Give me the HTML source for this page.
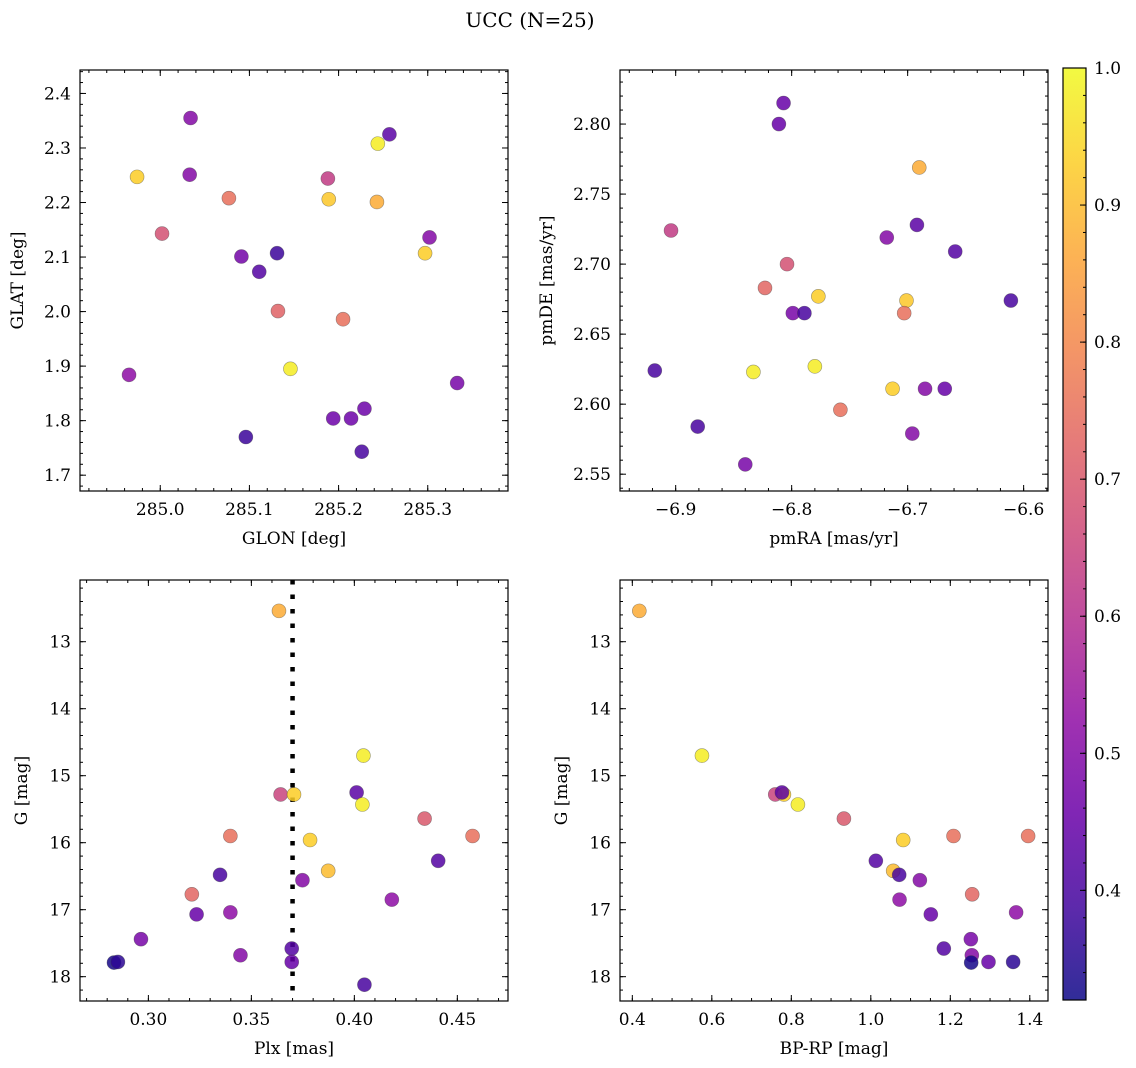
<!DOCTYPE html>
<html><head><meta charset="utf-8"><style>
body{margin:0;background:#fff;}
svg{display:block;font-family:"DejaVu Serif","Liberation Serif",serif;}
</style></head><body>
<svg id="chart" width="1136" height="1068" viewBox="0 0 1136 1068" xmlns="http://www.w3.org/2000/svg">
<defs><linearGradient id="cbgrad" x1="0" y1="1" x2="0" y2="0">
<stop offset="0" stop-color="#0d0887"/><stop offset="0.1" stop-color="#41049d"/><stop offset="0.2" stop-color="#6a00a8"/><stop offset="0.3" stop-color="#8f0da4"/><stop offset="0.4" stop-color="#b12a90"/><stop offset="0.5" stop-color="#cc4778"/><stop offset="0.6" stop-color="#e16462"/><stop offset="0.7" stop-color="#f2844b"/><stop offset="0.8" stop-color="#fca636"/><stop offset="0.9" stop-color="#fcce25"/><stop offset="1" stop-color="#f0f921"/>
</linearGradient></defs>
<text x="530" y="27" font-size="20" text-anchor="middle">UCC (N=25)</text>
</svg>
<script>
// Panel 1: GLON / GLAT
const glon = [285.034,284.974,285.033,285.077,285.002,285.091,285.111,285.131,285.132,285.146,284.965,285.096,285.188,285.189,285.243,285.244,285.257,285.205,285.297,285.302,285.333,285.194,285.214,285.229,285.226];
const glat = [2.355,2.247,2.251,2.208,2.143,2.101,2.073,2.107,2.001,1.895,1.884,1.770,2.244,2.206,2.201,2.308,2.325,1.986,2.107,2.136,1.869,1.804,1.804,1.822,1.743];
const prob1 = [0.50,0.93,0.50,0.75,0.68,0.47,0.42,0.38,0.72,0.98,0.52,0.38,0.63,0.92,0.87,0.98,0.43,0.75,0.93,0.50,0.48,0.46,0.46,0.46,0.40];
// Panel 2: pmRA / pmDE
const pmra = [-6.807,-6.811,-6.690,-6.904,-6.692,-6.718,-6.659,-6.804,-6.823,-6.777,-6.701,-6.703,-6.799,-6.789,-6.611,-6.918,-6.833,-6.780,-6.713,-6.685,-6.668,-6.758,-6.881,-6.696,-6.840];
const pmde = [2.815,2.800,2.769,2.724,2.728,2.719,2.709,2.700,2.683,2.677,2.674,2.665,2.665,2.665,2.674,2.624,2.623,2.627,2.611,2.611,2.611,2.596,2.584,2.579,2.557];
const prob2 = [0.45,0.45,0.87,0.63,0.43,0.50,0.42,0.68,0.73,0.93,0.92,0.75,0.48,0.40,0.40,0.40,0.98,0.98,0.93,0.50,0.45,0.75,0.40,0.50,0.48];
// Panels 3 & 4: Plx, BP-RP, G
const gmag = [12.54,15.28,15.28,14.70,15.25,15.43,15.90,15.96,15.64,15.90,16.27,16.42,16.56,16.48,16.77,17.07,17.04,16.85,17.44,17.68,17.58,17.78,17.79,17.78,18.12];
const plx = [0.3634,0.3642,0.3707,0.4044,0.4011,0.4039,0.3398,0.3785,0.4341,0.4574,0.4407,0.3873,0.3748,0.3348,0.3211,0.3234,0.3398,0.4182,0.2964,0.3447,0.3696,0.3696,0.2833,0.2852,0.4049];
const bprp = [0.4176,0.7596,0.7814,0.5752,0.7764,0.8166,1.2081,1.0815,0.9323,1.3958,1.0127,1.0563,1.1234,1.0714,1.2550,1.1510,1.3656,1.0723,1.2517,1.2542,1.1837,1.2961,1.2525,1.3581,null];
const prob3 = [0.87,0.65,0.93,0.98,0.43,0.98,0.75,0.93,0.70,0.75,0.42,0.90,0.50,0.40,0.73,0.45,0.52,0.52,0.48,0.50,0.42,0.45,0.33,0.36,0.40];
const plxLine = [0.370];
const ticks1x = [285.0,285.1,285.2,285.3], ticks1y = [1.7,1.8,1.9,2.0,2.1,2.2,2.3,2.4];
const ticks2x = [-6.9,-6.8,-6.7,-6.6], ticks2y = [2.55,2.60,2.65,2.70,2.75,2.80];
const ticks3x = [0.30,0.35,0.40,0.45], ticksG = [13,14,15,16,17,18];
const ticks4x = [0.4,0.6,0.8,1.0,1.2,1.4];
const cbTicks = [0.4,0.5,0.6,0.7,0.8,0.9,1.0];

const VMIN = 0.32, VMAX = 1.0;
const NS = 'http://www.w3.org/2000/svg';
const svg = document.getElementById('chart');
const plasma = ['#0d0887','#41049d','#6a00a8','#8f0da4','#b12a90','#cc4778','#e16462','#f2844b','#fca636','#fcce25','#f0f921'];
function hex(h){return [1,3,5].map(i=>parseInt(h.substr(i,2),16));}
function cmap(v){
  let t=(v-VMIN)/(VMAX-VMIN); t=Math.max(0,Math.min(1,t));
  const p=t*10, i=Math.min(9,Math.floor(p)), f=p-i;
  const a=hex(plasma[i]), b=hex(plasma[i+1]);
  return 'rgb('+a.map((c,k)=>Math.round(c+(b[k]-c)*f)).join(',')+')';
}
function el(tag, attrs, parent){
  const e=document.createElementNS(NS,tag);
  for(const k in attrs) e.setAttribute(k,attrs[k]);
  (parent||svg).appendChild(e); return e;
}
function fmt(v,d){return v.toFixed(d).replace('-','\u2212');}

function panel(o){
  const g=el('g',{});
  
  
  const sx=v=>o.L+(v-o.x0)/(o.x1-o.x0)*(o.R-o.L);
  const sy=v=>o.B-(v-o.y0)/(o.y1-o.y0)*(o.B-o.T);
  const tg=el('g',{stroke:'#000','stroke-width':1},g);
  
  
  function ticksX(step,len){
    const lo=Math.min(o.x0,o.x1), hi=Math.max(o.x0,o.x1);
    for(let k=Math.ceil(lo/step-1e-6);k*step<=hi+1e-9;k++){const x=sx(k*step);
      el('line',{x1:x,x2:x,y1:o.B,y2:o.B-len},tg); el('line',{x1:x,x2:x,y1:o.T,y2:o.T+len},tg);}
  }
  function ticksY(step,len){
    const lo=Math.min(o.y0,o.y1), hi=Math.max(o.y0,o.y1);
    for(let k=Math.ceil(lo/step-1e-6);k*step<=hi+1e-9;k++){const y=sy(k*step);
      el('line',{x1:o.L,x2:o.L+len,y1:y,y2:y},tg); el('line',{x1:o.R,x2:o.R-len,y1:y,y2:y},tg);}
  }
  ticksX(o.mx,3); ticksY(o.my,3);
  o.tx.forEach(v=>{const x=sx(v);el('line',{x1:x,x2:x,y1:o.B,y2:o.B-6},tg);el('line',{x1:x,x2:x,y1:o.T,y2:o.T+6},tg);
    const t=el('text',{x:x,y:o.B+24,'font-size':17,'text-anchor':'middle'},g);t.textContent=fmt(v,o.dx);
    
    });
  o.ty.forEach(v=>{const y=sy(v);el('line',{x1:o.L,x2:o.L+6,y1:y,y2:y},tg);el('line',{x1:o.R,x2:o.R-6,y1:y,y2:y},tg);
    const t=el('text',{x:o.L-9,y:y+6,'font-size':17,'text-anchor':'end'},g);t.textContent=fmt(v,o.dy);
    
    });
  if(o.vline){o.vline.forEach(v=>{const l=el('line',{x1:sx(v),x2:sx(v),y1:o.T,y2:o.B,stroke:'#000','stroke-width':4.5,'stroke-dasharray':'4.5 10'},g);
    
    });}
  o.xs.forEach((xv,i)=>{ if(xv==null) return;
    const c=el('circle',{cx:sx(xv),cy:sy(o.ys[i]),r:7,fill:cmap(o.cs[i]),'fill-opacity':0.85,stroke:'rgba(60,60,60,0.5)','stroke-width':0.6},g);
    
    
  });
  const fr=el('rect',{x:o.L,y:o.T,width:o.R-o.L,height:o.B-o.T,fill:'none',stroke:'#000','stroke-width':1.2},g);
  
  
  const xl=el('text',{x:(o.L+o.R)/2,y:o.B+53,'font-size':17,'text-anchor':'middle'},g);xl.textContent=o.xl;
  
  
  const yx=o.ylx, yy=(o.T+o.B)/2;
  const yl=el('text',{x:yx,y:yy,'font-size':17,'text-anchor':'middle',transform:'rotate(-90 '+yx+' '+yy+')'},g);yl.textContent=o.yl;
  
  
}

panel({name:'glon-glat-panel',L:80,R:508,T:70,B:491,x0:284.910,x1:285.390,y0:1.671,y1:2.443,tx:ticks1x,ty:ticks1y,dx:1,dy:1,mx:0.02,my:0.02,xs:glon,ys:glat,cs:prob1,xl:'GLON [deg]',yl:'GLAT [deg]',ylx:23});
panel({name:'pm-panel',L:620,R:1048,T:70,B:491,x0:-6.948,x1:-6.579,y0:2.538,y1:2.8386,tx:ticks2x,ty:ticks2y,dx:1,dy:2,mx:0.02,my:0.01,xs:pmra,ys:pmde,cs:prob2,xl:'pmRA [mas/yr]',yl:'pmDE [mas/yr]',ylx:552});
panel({name:'plx-g-panel',L:80,R:508,T:580,B:1001,x0:0.2668,x1:0.4746,y0:18.363,y1:12.079,tx:ticks3x,ty:ticksG,dx:2,dy:0,mx:0.01,my:0.2,xs:plx,ys:gmag,cs:prob3,xl:'Plx [mas]',yl:'G [mag]',ylx:27,vline:plxLine});
panel({name:'cmd-panel',L:620,R:1048,T:580,B:1001,x0:0.369,x1:1.4458,y0:18.363,y1:12.079,tx:ticks4x,ty:ticksG,dx:1,dy:0,mx:0.05,my:0.2,xs:bprp,ys:gmag,cs:prob3,xl:'BP-RP [mag]',yl:'G [mag]',ylx:567});

(function(){
  const L=1063,R=1086,T=68,B=1000;
  const g=el('g',{});
  
  
  el('rect',{x:L,y:T,width:R-L,height:B-T,fill:'url(#cbgrad)','fill-opacity':0.85},g);
  el('rect',{x:L,y:T,width:R-L,height:B-T,fill:'none',stroke:'#000','stroke-width':1.2},g);
  const sy=v=>B-(v-VMIN)/(VMAX-VMIN)*(B-T);
  for(let k=Math.ceil(VMIN/0.02);k*0.02<=VMAX+1e-9;k++){const y=sy(k*0.02);el('line',{x1:R,x2:R-3,y1:y,y2:y,stroke:'#000'},g);}
  cbTicks.forEach(v=>{const y=sy(v);el('line',{x1:R,x2:R-6,y1:y,y2:y,stroke:'#000'},g);
    const t=el('text',{x:R+8,y:y+6,'font-size':17},g);t.textContent=v.toFixed(1);
    
    });
})();
</script>
</body></html>
